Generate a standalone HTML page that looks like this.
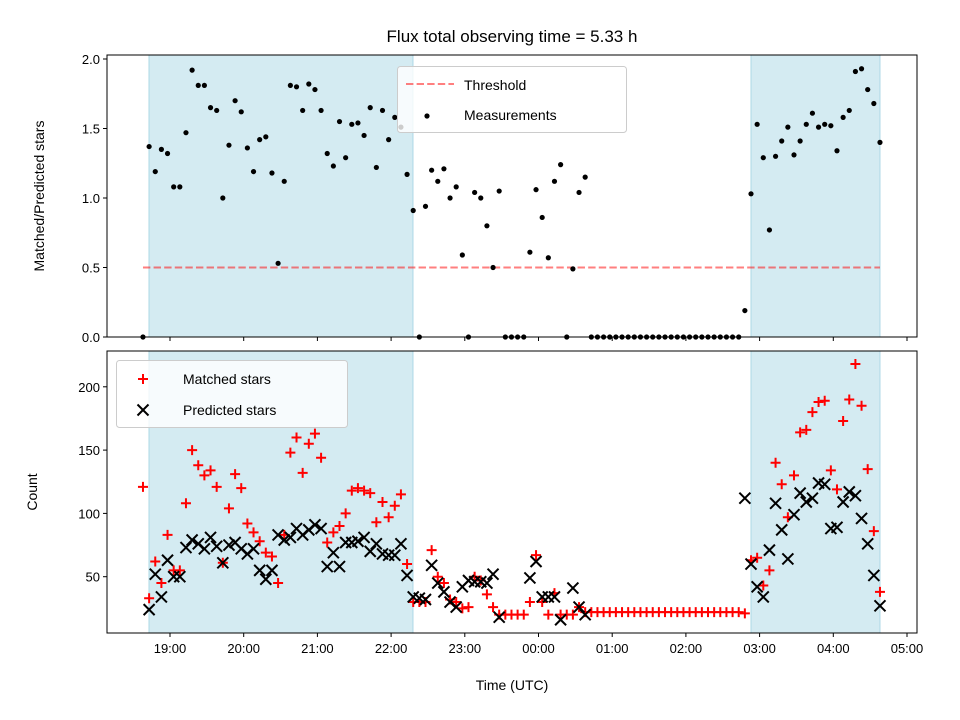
<!DOCTYPE html>
<html><head><meta charset="utf-8"><style>
body{margin:0;background:#fff}
svg{display:block;font-family:"Liberation Sans","DejaVu Sans",sans-serif}
</style></head><body>
<svg id="fig" width="960" height="720" viewBox="0 0 960 720" xmlns="http://www.w3.org/2000/svg">
<defs><clipPath id="clipB"><rect x="107" y="351" width="810" height="282"/></clipPath></defs>
<rect width="960" height="720" fill="#fff"/>
<text x="512" y="42" font-size="17" text-anchor="middle">Flux total observing time = 5.33 h</text>
<g id="top"></g><g id="bot"></g>
</svg>
<script>
// minutes after 18:00 UTC
const timesMin=[38,43,48,53,58,63,68,73,78,83,88,93,98,103,108,113,118,123,128,133,138,143,148,153,158,163,168,173,178,183,188,193,198,203,208,213,218,223,228,233,238,243,248,253,258,263,268,273,278,283,288,293,298,303,308,313,318,323,328,333,338,343,348,353,358,363,368,373,378,383,388,393,398,403,408,413,418,423,428,433,438,443,448,453,458,463,468,473,478,483,488,493,498,503,508,513,518,523,528,533,538,543,548,553,558,563,568,573,578,583,588,593,598,603,608,613,618,623,628,633,638];
const ratio=[0,1.37,1.19,1.35,1.32,1.08,1.08,1.47,1.92,1.81,1.81,1.65,1.63,1.00,1.38,1.70,1.62,1.36,1.19,1.42,1.44,1.18,0.53,1.12,1.81,1.80,1.63,1.82,1.78,1.63,1.32,1.23,1.55,1.29,1.53,1.54,1.45,1.65,1.22,1.63,1.42,1.58,1.51,1.17,0.91,0,0.94,1.20,1.12,1.21,1.00,1.08,0.59,0,1.04,1.00,0.80,0.50,1.05,0,0,0,0,0.61,1.06,0.86,0.57,1.12,1.24,0,0.49,1.04,1.15,0,0,0,0,0,0,0,0,0,0,0,0,0,0,0,0,0,0,0,0,0,0,0,0,0,0.19,1.03,1.53,1.29,0.77,1.30,1.41,1.51,1.31,1.41,1.53,1.61,1.51,1.53,1.52,1.34,1.58,1.63,1.91,1.93,1.78,1.68,1.40];
const matched=[121,33,62,45,83,55,55,108,150,138,130,134,121,61,104,131,120,92,85,78,69,66,45,83,148,160,132,155,163,144,77,85,90,100,118,120,118,116,93,109,97,106,115,60,30,30,30,71,50,45,32,30,25,26,50,47,36,26,20,20,20,20,20,30,67,30,20,37,20,20,20,26,22,22,22,22,22,22,22,22,22,22,22,22,22,22,22,22,22,22,22,22,22,22,22,22,22,22,21,63,65,43,55,140,123,97,130,164,166,180,188,189,134,119,173,190,218,185,135,86,38];
const predicted=[null,24,52,34,63,50,50,73,79,76,72,81,74,61,75,77,72,68,72,55,48,55,83,79,81,88,83,87,91,88,58,69,58,77,77,78,81,70,76,68,67,67,76,51,34,33,32,59,45,38,30,26,42,47,46,46,45,52,18,null,null,null,null,49,62,34,34,34,16,null,41,26,20,null,null,null,null,null,null,null,null,null,null,null,null,null,null,null,null,null,null,null,null,null,null,null,null,null,112,60,42,34,71,108,87,64,99,116,109,112,124,123,88,89,109,117,114,96,76,51,27];
const threshold=0.5;
const spans=[[42.9,257.8],[533,638]]; // minutes after 18:00
const xTickMin=[60,120,180,240,300,360,420,480,540,600,660];
const xTickLabels=["19:00","20:00","21:00","22:00","23:00","00:00","01:00","02:00","03:00","04:00","05:00"];
const topYTicks=[0,0.5,1.0,1.5,2.0];
const topYLabels=["0.0","0.5","1.0","1.5","2.0"];
const botYTicks=[50,100,150,200];

const NS="http://www.w3.org/2000/svg";
function mk(p,t,a){const e=document.createElementNS(NS,t);for(const k in a)e.setAttribute(k,a[k]);p.appendChild(e);return e;}
const L=107,R=917;
const x=m=>170+(m-60)*73.7/60;
const T={t:55,b:337}, B={t:351,b:633};
const yT=v=>337-v*139;
const yB=v=>640-v*1.266;
const topG=document.getElementById('top'), botG=document.getElementById('bot');

function frame(g,P){
  for(const s of spans){
    const r=mk(g,'rect',{x:x(s[0]),y:P.t,width:x(s[1])-x(s[0]),height:P.b-P.t,fill:'#add8e6','fill-opacity':0.52,stroke:'#add8e6','stroke-width':1});
    
    
  }
}
function axes(g,P,name,yTicks,yLabels,yf,showX){
  const f=mk(g,'rect',{x:L,y:P.t,width:R-L,height:P.b-P.t,fill:'none',stroke:'#000','stroke-width':1});
  
  
  xTickMin.forEach((m,i)=>{
    mk(g,'line',{x1:x(m),x2:x(m),y1:P.b,y2:P.b+4,stroke:'#000','stroke-width':1});
    if(showX){const t=mk(g,'text',{x:x(m),y:P.b+20,'font-size':13,'text-anchor':'middle'});t.textContent=xTickLabels[i];
      
      }
  });
  yTicks.forEach((v,i)=>{
    mk(g,'line',{x1:L-4,x2:L,y1:yf(v),y2:yf(v),stroke:'#000','stroke-width':1});
    const t=mk(g,'text',{x:L-7,y:yf(v)+5,'font-size':13,'text-anchor':'end'});t.textContent=yLabels[i];
    
    
  });
}
// TOP
frame(topG,T);
const th=mk(topG,'line',{x1:x(timesMin[0]),x2:x(timesMin[timesMin.length-1]),y1:yT(threshold),y2:yT(threshold),stroke:'#ff0000','stroke-opacity':0.5,'stroke-width':2,'stroke-dasharray':'7.4,3.2'});


ratio.forEach((v,i)=>{
  const c=mk(topG,'circle',{cx:x(timesMin[i]),cy:yT(v),r:2.6,fill:'#000'});
  
  
});
axes(topG,T,'top-axes',topYTicks,topYLabels,yT,false);
let yl=mk(topG,'text',{x:0,y:0,'font-size':14,'text-anchor':'middle',transform:'translate(44,196) rotate(-90)'});yl.textContent='Matched/Predicted stars';


const lg=mk(topG,'g',{});


mk(lg,'rect',{x:397.5,y:66.5,width:229,height:66,rx:3,fill:'#fff','fill-opacity':0.8,stroke:'#ccc'});
mk(lg,'line',{x1:406,x2:454,y1:84,y2:84,stroke:'#ff0000','stroke-opacity':0.5,'stroke-width':2,'stroke-dasharray':'7.4,3.2'});
let t1=mk(lg,'text',{x:464,y:90,'font-size':14});t1.textContent='Threshold';


mk(lg,'circle',{cx:427,cy:116,r:2.6,fill:'#000'});
let t2=mk(lg,'text',{x:464,y:120,'font-size':14});t2.textContent='Measurements';



// BOTTOM
frame(botG,B);
const marks=mk(botG,'g',{'clip-path':'url(#clipB)'});
function plus(g,cx,cy){mk(g,'path',{d:`M${cx-5} ${cy}H${cx+5}M${cx} ${cy-5}V${cy+5}`,stroke:'#ff0000','stroke-width':2,fill:'none'});}
function cross(g,cx,cy){mk(g,'path',{d:`M${cx-5.5} ${cy-5.5}L${cx+5.5} ${cy+5.5}M${cx-5.5} ${cy+5.5}L${cx+5.5} ${cy-5.5}`,stroke:'#000','stroke-width':2,fill:'none'});}
matched.forEach((v,i)=>{ if(v==null)return;
  const g=mk(marks,'g',{});
  
  
  plus(g,x(timesMin[i]),yB(v));});
predicted.forEach((v,i)=>{ if(v==null)return;
  const g=mk(marks,'g',{});
  
  
  cross(g,x(timesMin[i]),yB(v));});
axes(botG,B,'bottom-axes',botYTicks,botYTicks.map(String),yB,true);
let yl2=mk(botG,'text',{x:0,y:0,'font-size':14,'text-anchor':'middle',transform:'translate(37,492) rotate(-90)'});yl2.textContent='Count';


let xl=mk(botG,'text',{x:512,y:690,'font-size':14,'text-anchor':'middle'});xl.textContent='Time (UTC)';


const lg2=mk(botG,'g',{});


mk(lg2,'rect',{x:116.5,y:360.5,width:231,height:67,rx:3,fill:'#fff','fill-opacity':0.8,stroke:'#ccc'});
plus(lg2,143,379);
let t3=mk(lg2,'text',{x:183,y:384,'font-size':14});t3.textContent='Matched stars';


cross(lg2,143,410);
let t4=mk(lg2,'text',{x:183,y:415,'font-size':14});t4.textContent='Predicted stars';


</script>
</body></html>
